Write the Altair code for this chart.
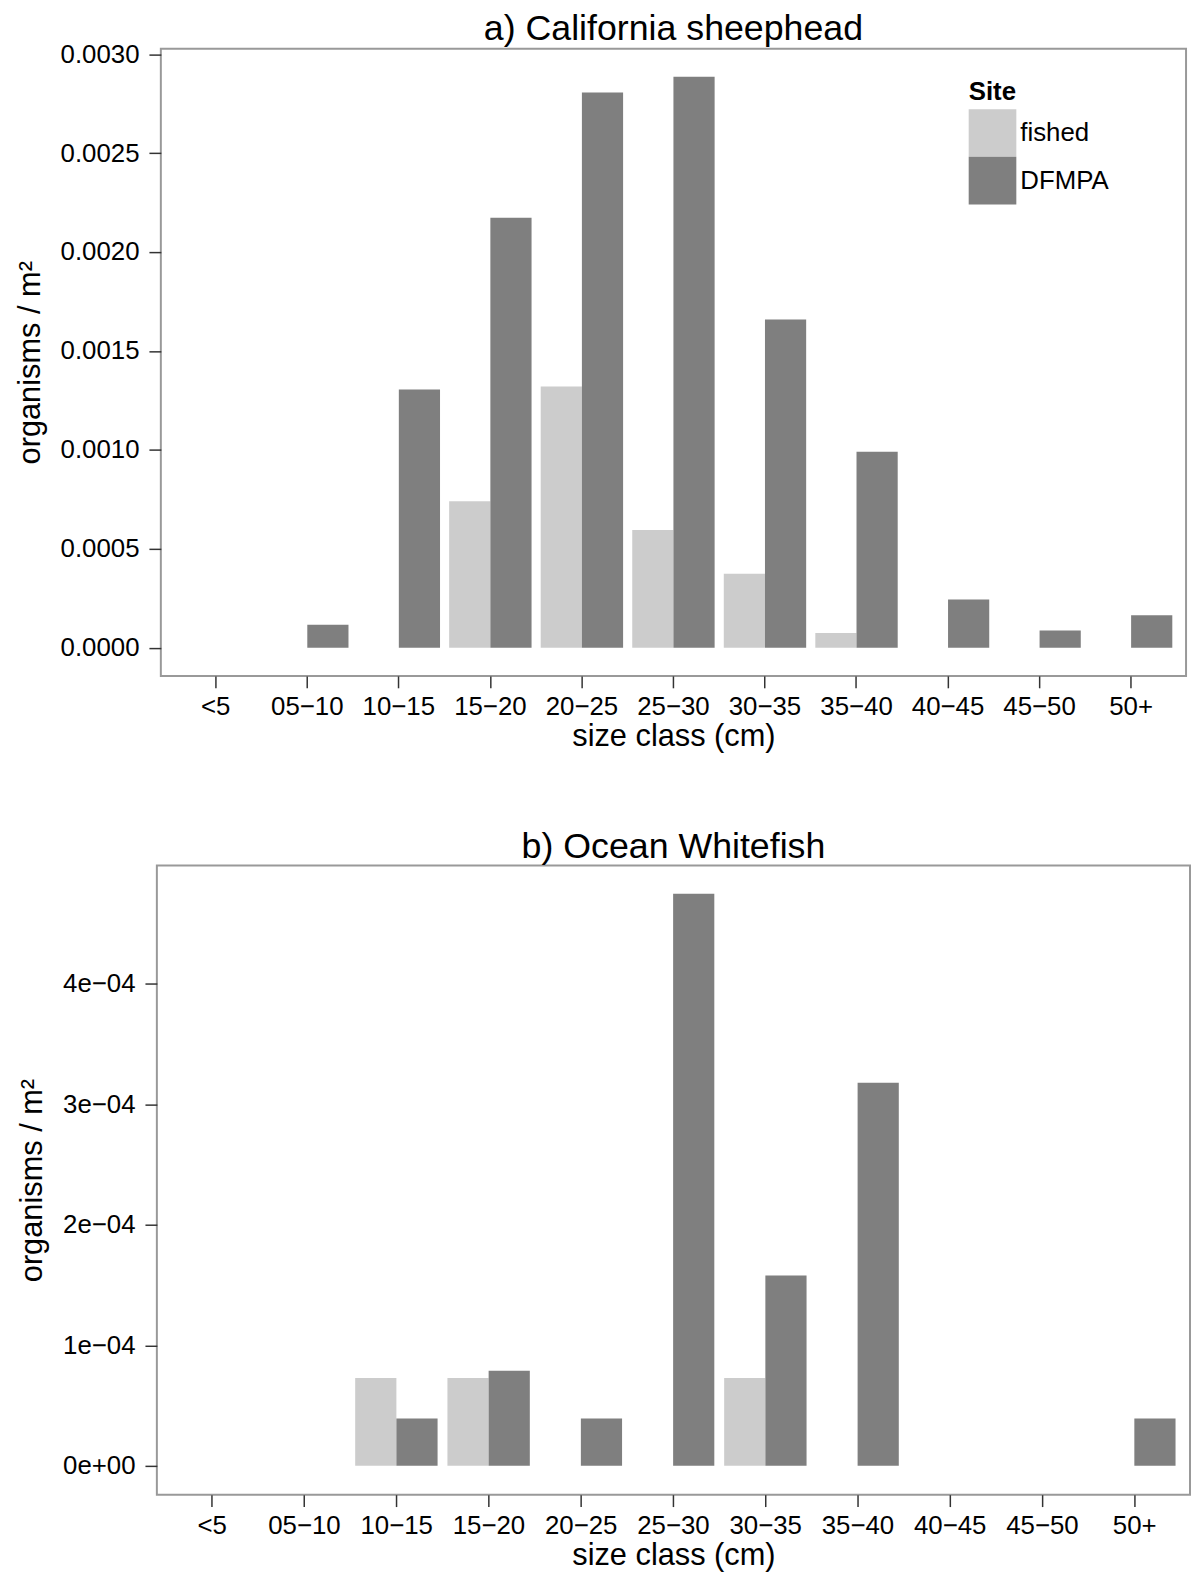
import altair as alt
import pandas as pd

size_classes = ["<5", "05−10", "10−15", "15−20", "20−25", "25−30",
                "30−35", "35−40", "40−45", "45−50", "50+"]
sites = ["fished", "DFMPA"]

sheephead_fished = [0, 0, 0, 0.000740, 0.001320, 0.000595, 0.000374, 0.000075, 0, 0, 0]
sheephead_dfmpa = [0, 0.000117, 0.001305, 0.002173, 0.002806, 0.002886, 0.001659,
                   0.000991, 0.000244, 0.000088, 0.000164]

whitefish_fished = [0, 0, 0.000073, 0.000073, 0, 0, 0.000073, 0, 0, 0, 0]
whitefish_dfmpa = [0, 0, 0.0000393, 0.000079, 0.0000393, 0.000475, 0.000158,
                   0.000318, 0, 0, 0.0000393]

sheephead_ticks = [0.0, 0.0005, 0.0010, 0.0015, 0.0020, 0.0025, 0.0030]
whitefish_ticks = [0.0, 0.0001, 0.0002, 0.0003, 0.0004]

FONT = "Liberation Sans"
COLORS = ["#cccccc", "#7f7f7f"]


def make_df(fished, dfmpa):
    rows = []
    for s, f, d in zip(size_classes, fished, dfmpa):
        rows.append({"size": s, "site": "fished", "value": f})
        rows.append({"size": s, "site": "DFMPA", "value": d})
    return pd.DataFrame(rows)


def panel(title, df, width, height, ydomain, yticks, yaxis_kwargs, legend, title_offset):
    return (
        alt.Chart(df)
        .mark_bar()
        .encode(
            x=alt.X(
                "size:N",
                sort=size_classes,
                scale=alt.Scale(domain=size_classes, paddingInner=0.1, paddingOuter=0.15),
                axis=alt.Axis(title="size class (cm)", labelAngle=0, labelPadding=6,
                              titlePadding=2),
            ),
            xOffset=alt.XOffset(
                "site:N",
                scale=alt.Scale(domain=sites, paddingInner=0, paddingOuter=0),
            ),
            y=alt.Y(
                "value:Q",
                scale=alt.Scale(domain=ydomain, nice=False, zero=False),
                axis=alt.Axis(title="organisms / m²", values=yticks, labelPadding=10,
                              titlePadding=14, **yaxis_kwargs),
            ),
            y2=alt.datum(0),
            color=alt.Color(
                "site:N",
                scale=alt.Scale(domain=sites, range=COLORS),
                legend=legend,
            ),
        )
        .properties(
            width=width,
            height=height,
            title=alt.TitleParams(title, fontSize=36, fontWeight="normal", font=FONT,
                                  anchor="middle", baseline="bottom", offset=title_offset,
                                  color="black"),
        )
    )


legend_a = alt.Legend(
    title="Site", orient="none", legendX=814, legendY=31,
    symbolType="square", symbolSize=2304, symbolStrokeWidth=0,
    rowPadding=0, padding=0, labelFontSize=26, titleFontSize=26,
    titleFontWeight="bold", labelOffset=4, titlePadding=4,
    labelFont=FONT, titleFont=FONT, labelColor="black", titleColor="black",
    symbolOpacity=1,
)

chart_a = panel(
    "a) California sheephead",
    make_df(sheephead_fished, sheephead_dfmpa),
    1033, 632,
    [-0.000142, 0.003028],
    sheephead_ticks,
    {"format": ".4f"},
    legend_a,
    -43,
)

chart_b = panel(
    "b) Ocean Whitefish",
    make_df(whitefish_fished, whitefish_dfmpa),
    1041, 634,
    [-0.0000239, 0.0004984],
    whitefish_ticks,
    {"labelExpr": "datum.value == 0 ? '0e+00' : format(datum.value * 10000, '.0f') + 'e−04'"},
    None,
    -36,
)

chart = (
    alt.vconcat(chart_a, chart_b, spacing=76, center=True)
    .resolve_scale(color="independent")
    .resolve_legend(color="independent")
    .properties(padding={"left": 5, "top": -4, "right": 0, "bottom": 0})
    .configure_view(stroke="#999999", strokeWidth=2)
    .configure_axis(
        labelFont=FONT, titleFont=FONT, labelFontSize=26, titleFontSize=31,
        labelColor="black", titleColor="black", titleFontWeight="normal",
        tickSize=12, tickColor="#333333", tickWidth=1.5, domain=False, grid=False,
    )
)

chart.save("out.html", embed_options={"renderer": "svg", "actions": False})
